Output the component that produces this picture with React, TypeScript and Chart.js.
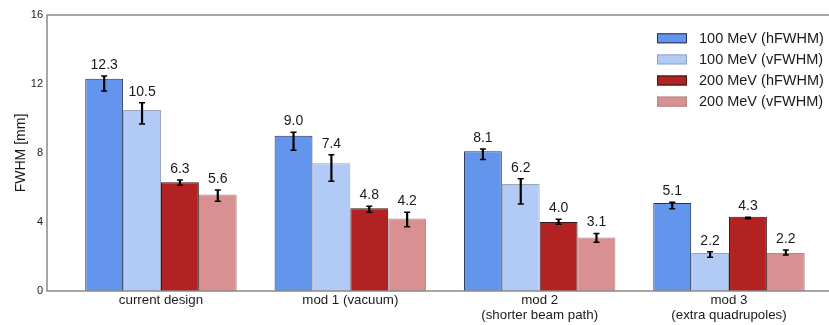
import React, { useEffect, useRef } from 'react';
import { Chart, registerables } from 'chart.js';

Chart.register(...registerables);

const categories: string[][] = [
  ['current design'],
  ['mod 1 (vacuum)'],
  ['mod 2', '(shorter beam path)'],
  ['mod 3', '(extra quadrupoles)'],
];
const seriesLabels = ['100 MeV (hFWHM)', '100 MeV (vFWHM)', '200 MeV (hFWHM)', '200 MeV (vFWHM)'];

const hFWHM100 = [12.3, 9.0, 8.1, 5.1];
const vFWHM100 = [10.5, 7.4, 6.2, 2.2];
const hFWHM200 = [6.3, 4.8, 4.0, 4.3];
const vFWHM200 = [5.6, 4.2, 3.1, 2.2];

// error bar bounds (lower / upper)
const hFWHM100Low = [11.6, 8.16, 7.63, 4.77];
const hFWHM100High = [12.46, 9.2, 8.23, 5.14];
const vFWHM100Low = [9.68, 6.36, 5.04, 1.95];
const vFWHM100High = [10.92, 7.9, 6.51, 2.28];
const hFWHM200Low = [6.13, 4.56, 3.87, 4.19];
const hFWHM200High = [6.43, 4.91, 4.16, 4.27];
const vFWHM200Low = [5.2, 3.73, 2.82, 2.09];
const vFWHM200High = [5.86, 4.56, 3.34, 2.38];

const yTicks = [0, 4, 8, 12, 16];

const seriesValues = [hFWHM100, vFWHM100, hFWHM200, vFWHM200];
const seriesLow = [hFWHM100Low, vFWHM100Low, hFWHM200Low, vFWHM200Low];
const seriesHigh = [hFWHM100High, vFWHM100High, hFWHM200High, vFWHM200High];
const fillColors = ['#6495ED', '#B2CAF6', '#B22222', '#D89090'];
const edgeColors = ['#26324d', '#9aa6b8', '#3a1515', '#a88a8a'];

const FONT = '"Liberation Sans", Arial, Helvetica, sans-serif';
const TEXT = '#1a1a1a';

const overlayPlugin = {
  id: 'overlay',
  afterDatasetsDraw(chart: any) {
    const ctx = chart.ctx;
    const yScale = chart.scales.y;
    ctx.save();
    chart.data.datasets.forEach((ds: any, di: number) => {
      const meta = chart.getDatasetMeta(di);
      meta.data.forEach((el: any, i: number) => {
        const x = el.x;
        const yH = yScale.getPixelForValue(seriesHigh[di][i]);
        const yL = yScale.getPixelForValue(seriesLow[di][i]);
        ctx.strokeStyle = '#000';
        ctx.lineWidth = 2.2;
        ctx.beginPath();
        ctx.moveTo(x, yH);
        ctx.lineTo(x, yL);
        ctx.stroke();
        ctx.lineWidth = 1.5;
        ctx.beginPath();
        ctx.moveTo(x - 3, yH);
        ctx.lineTo(x + 3, yH);
        ctx.moveTo(x - 3, yL);
        ctx.lineTo(x + 3, yL);
        ctx.stroke();
        ctx.fillStyle = TEXT;
        ctx.font = `14px ${FONT}`;
        ctx.textAlign = 'center';
        ctx.textBaseline = 'alphabetic';
        ctx.fillText(seriesValues[di][i].toFixed(1), x, yH - 7);
      });
    });
    const a = chart.chartArea;
    ctx.strokeStyle = '#8a8a8a';
    ctx.lineWidth = 1.5;
    ctx.beginPath();
    ctx.moveTo(a.right + 5, a.top);
    ctx.lineTo(a.left, a.top);
    ctx.lineTo(a.left, a.bottom);
    ctx.lineTo(a.right + 5, a.bottom);
    ctx.stroke();
    seriesLabels.forEach((lab, i) => {
      const cy = 38.3 + i * 21.1;
      ctx.fillStyle = fillColors[i];
      ctx.fillRect(657, cy - 5, 30, 10);
      ctx.strokeStyle = edgeColors[i];
      ctx.lineWidth = 1;
      ctx.strokeRect(657.5, cy - 4.5, 29, 9);
      ctx.fillStyle = TEXT;
      ctx.font = `14.5px ${FONT}`;
      ctx.textAlign = 'left';
      ctx.textBaseline = 'middle';
      ctx.fillText(lab, 699, cy + 0.5);
    });
    ctx.restore();
  },
};

export default function App() {
  const ref = useRef<HTMLCanvasElement | null>(null);
  useEffect(() => {
    if (!ref.current) return;
    const chart = new Chart(ref.current, {
      type: 'bar',
      data: {
        datasets: seriesLabels.map((lab, di) => ({
          label: lab,
          data: seriesValues[di].map((v, i) => ({ x: i, y: v })),
          backgroundColor: fillColors[di],
          borderColor: edgeColors[di],
          borderWidth: 1,
          categoryPercentage: 0.8,
          barPercentage: 1.0,
        })),
      },
      options: {
        animation: false,
        responsive: false,
        devicePixelRatio: 1,
        layout: { padding: { top: 15, right: 0, left: 0, bottom: 0 } },
        plugins: { legend: { display: false }, tooltip: { enabled: false } },
        scales: {
          x: {
            type: 'linear',
            offset: false,
            min: -0.602,
            max: 3.528,
            grid: { display: false, drawTicks: false, offset: false },
            border: { display: false },
            afterBuildTicks: (s: any) => {
              s.ticks = categories.map((_, i) => ({ value: i }));
            },
            afterFit: (s: any) => {
              s.height = 34;
            },
            ticks: {
              autoSkip: false,
              maxRotation: 0,
              minRotation: 0,
              padding: 1.5,
              color: TEXT,
              font: { family: FONT, size: 13.3, lineHeight: 1.13 },
              callback: (v: any) => categories[Math.round(Number(v))],
            },
          },
          y: {
            min: 0,
            max: 16,
            grid: { display: false, drawTicks: false },
            border: { display: false },
            afterBuildTicks: (s: any) => {
              s.ticks = yTicks.map((v) => ({ value: v }));
            },
            afterFit: (s: any) => {
              s.width = 47;
            },
            ticks: {
              padding: 4,
              color: TEXT,
              font: { family: FONT, size: 11 },
            },
            title: {
              display: true,
              text: 'FWHM [mm]',
              color: TEXT,
              font: { family: FONT, size: 14 },
              padding: { top: 13, bottom: 0 },
            },
          },
        },
      },
      plugins: [overlayPlugin],
    });
    return () => chart.destroy();
  }, []);
  return (
    <div style={{ position: 'absolute', left: 0, top: 0, width: 829, height: 325 }}>
      <canvas ref={ref} width={829} height={325} style={{ width: 829, height: 325 }} />
    </div>
  );
}
